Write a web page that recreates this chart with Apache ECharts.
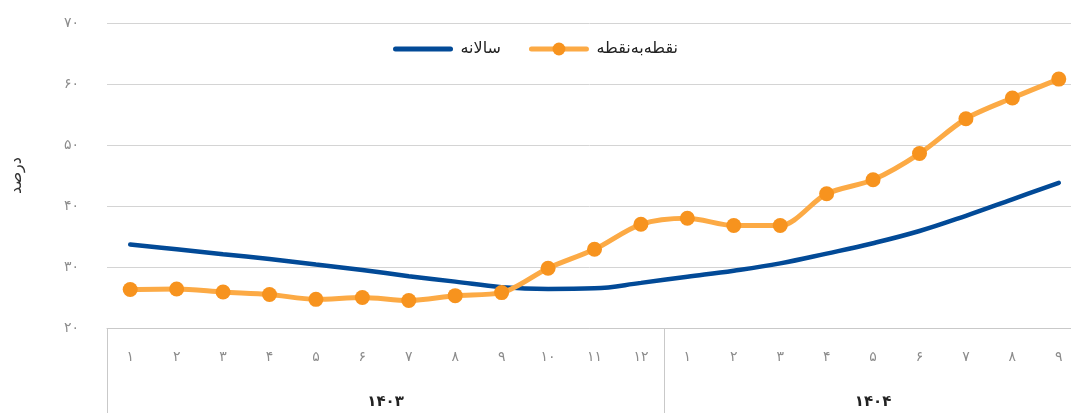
<!DOCTYPE html>
<html lang="fa">
<head>
    <meta charset="UTF-8">
    <title>نرخ تورم</title>
    <script src="https://cdn.jsdelivr.net/npm/echarts@6/dist/echarts.min.js"></script>
    <style>
        html, body { margin: 0; padding: 0; background: #fff; }
    </style>
</head>
<body>
<div id="main" style="width: 1071px;height:413px;"></div>

<script type="text/javascript">
    // داده‌ها
    var months = ['۱', '۲', '۳', '۴', '۵', '۶', '۷', '۸', '۹', '۱۰', '۱۱', '۱۲',
        '۱', '۲', '۳', '۴', '۵', '۶', '۷', '۸', '۹'];
    var years = ['۱۴۰۳', '۱۴۰۴'];
    var yearCenters = [6, 16.5];      // وسط هر گروه سال روی محور کمکی
    var yearBounds = [0, 12, 21];     // خطوط جداکننده سال‌ها
    var yTickLabels = ['۲۰', '۳۰', '۴۰', '۵۰', '۶۰', '۷۰'];

    var annual = [33.7, 32.9, 32.1, 31.3, 30.4, 29.5, 28.5, 27.6, 26.7, 26.4, 26.5, 27.4,
        28.4, 29.4, 30.6, 32.2, 33.9, 35.9, 38.4, 41.1, 43.8];
    var pointToPoint = [26.3, 26.4, 25.9, 25.5, 24.7, 25.0, 24.5, 25.3, 25.8, 29.8, 32.9, 37.0,
        38.0, 36.8, 36.8, 42.0, 44.3, 48.6, 54.3, 57.7, 60.8];

    var myChart = echarts.init(document.getElementById('main'));
    var option = {
        animation: false,
        textStyle: {
            fontFamily: 'DejaVu Sans'
        },
        legend: {
            left: 'center',
            top: 36,
            itemWidth: 55,
            itemHeight: 16,
            itemGap: 28,
            lineStyle: {width: 5, cap: 'round'},
            textStyle: {
                fontSize: 16,
                color: '#222',
                padding: [0, 0, 0, 5]
            },
            data: [
                {name: 'سالانه', itemStyle: {opacity: 0}},
                {name: 'نقطه‌به‌نقطه'}
            ]
        },
        grid: {
            left: 107,
            top: 23,
            width: 975,
            bottom: 85,
            outerBoundsMode: 'none'
        },
        xAxis: [
            {
                type: 'category',
                data: months,
                boundaryGap: true,
                axisLine: {show: true, lineStyle: {color: '#c9c9c9', width: 1}},
                axisTick: {show: false},
                axisLabel: {margin: 22, color: '#8c8c8c', fontSize: 14}
            },
            {
                type: 'value',
                position: 'bottom',
                min: 0,
                max: 21,
                axisLine: {show: false},
                splitLine: {show: false},
                axisTick: {
                    show: true,
                    customValues: yearBounds,
                    length: 90,
                    lineStyle: {color: '#c9c9c9', width: 1}
                },
                axisLabel: {
                    customValues: yearCenters,
                    margin: 67,
                    fontSize: 15,
                    fontWeight: 'bold',
                    color: '#222',
                    formatter: function (v) {
                        return years[yearCenters.indexOf(v)];
                    }
                }
            }
        ],
        yAxis: {
            type: 'value',
            min: 20,
            max: 70,
            interval: 10,
            name: 'درصد',
            nameLocation: 'middle',
            nameRotate: 90,
            nameGap: 82,
            nameTextStyle: {fontSize: 16, color: '#333'},
            axisLine: {show: false},
            axisTick: {show: false},
            splitLine: {lineStyle: {color: '#d4d4d4', width: 1}},
            axisLabel: {
                margin: 28,
                color: '#8c8c8c',
                fontSize: 14,
                formatter: function (v) {
                    return yTickLabels[(v - 20) / 10];
                }
            }
        },
        series: [
            {
                name: 'سالانه',
                type: 'line',
                xAxisIndex: 0,
                data: annual,
                smooth: 0.4,
                symbol: 'none',
                lineStyle: {color: '#024a97', width: 4.5, cap: 'round'},
                itemStyle: {color: '#024a97'}
            },
            {
                name: 'نقطه‌به‌نقطه',
                type: 'line',
                xAxisIndex: 0,
                data: pointToPoint,
                smooth: 0.3,
                symbol: 'circle',
                symbolSize: 15,
                lineStyle: {color: '#fcaa45', width: 5, cap: 'round'},
                itemStyle: {color: '#f7931e'}
            }
        ]
    };

    myChart.setOption(option);
</script>
</body>
</html>
